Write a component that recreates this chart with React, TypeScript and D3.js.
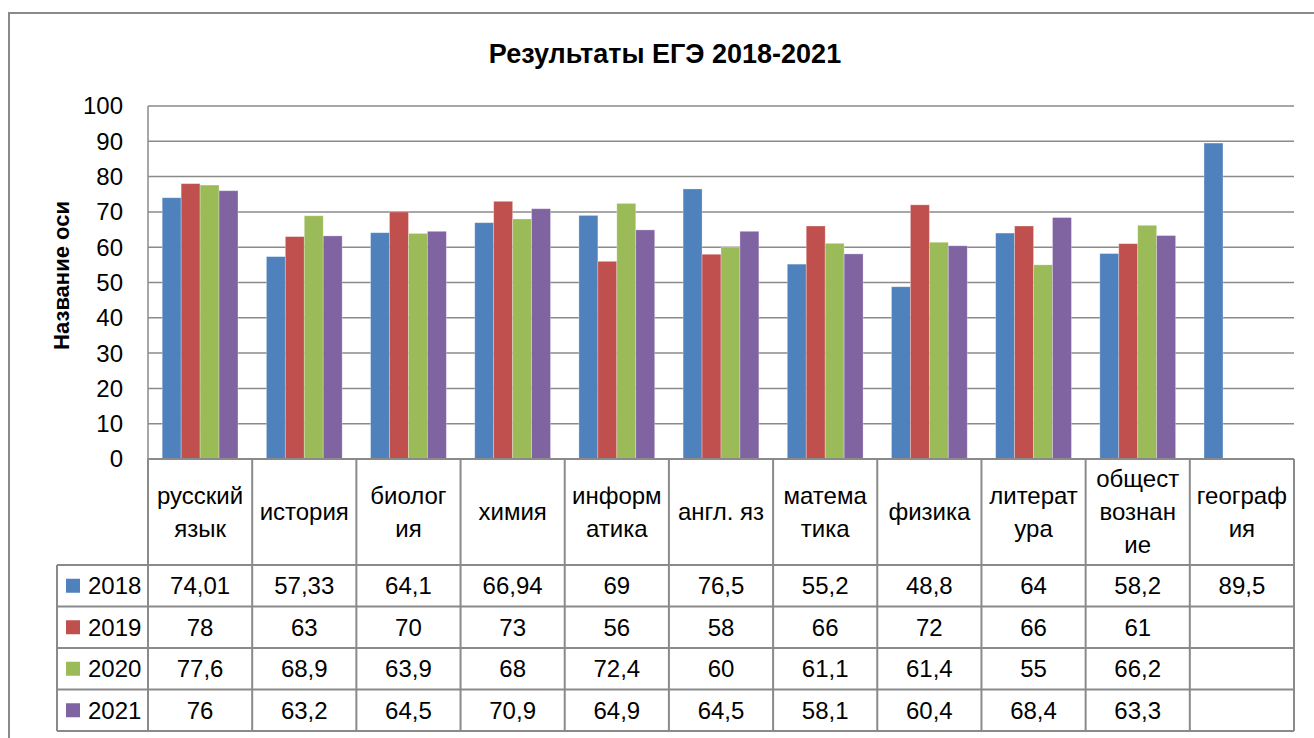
import React from 'react';
import * as d3 from 'd3';

// Subjects (line breaks as they wrap in the table header)
const categories = [
  'русский\nязык', 'история', 'биолог\nия', 'химия', 'информ\nатика', 'англ. яз',
  'матема\nтика', 'физика', 'литерат\nура', 'общест\nвознан\nие', 'географ\nия',
];
const years = ['2018', '2019', '2020', '2021'];
const values2018: (number | null)[] = [74.01, 57.33, 64.1, 66.94, 69, 76.5, 55.2, 48.8, 64, 58.2, 89.5];
const values2019: (number | null)[] = [78, 63, 70, 73, 56, 58, 66, 72, 66, 61, null];
const values2020: (number | null)[] = [77.6, 68.9, 63.9, 68, 72.4, 60, 61.1, 61.4, 55, 66.2, null];
const values2021: (number | null)[] = [76, 63.2, 64.5, 70.9, 64.9, 64.5, 58.1, 60.4, 68.4, 63.3, null];
const yTicks = [0, 10, 20, 30, 40, 50, 60, 70, 80, 90, 100];
const colors = ['#4F81BD', '#C0504D', '#9BBB59', '#8064A2'];

const series = [values2018, values2019, values2020, values2021];

const FONT = '"Liberation Sans", Arial, sans-serif';
const GRID = '#8a8a8a';

const fmt = (v: number | null) => (v == null ? '' : String(v).replace('.', ','));

export default function App() {
  const left = 148;
  const right = 1294;
  const top = 106;
  const bottom = 459;
  const headerBottom = 565;
  const rowH = 41.5;
  const legendLeft = 57;

  const y = d3.scaleLinear().domain([0, 100]).range([bottom, top]);
  const x = d3.scaleBand<number>().domain(d3.range(categories.length)).range([left, right]).padding(0);
  const cw = x.bandwidth();
  const bw = cw / 5.5; // gap width 150%
  const inner = d3.scaleBand<string>().domain(years).range([bw * 0.75, cw - bw * 0.75]).padding(0);

  const rowsTop = (i: number) => headerBottom + i * rowH;
  const tableBottom = rowsTop(years.length);

  return (
    <svg width={1314} height={738} style={{ position: 'absolute', left: 0, top: 0, background: '#fff' }}>
      <rect x={9} y={13} width={1330} height={760} fill="#fff" stroke={GRID} strokeWidth={2} />

      <text x={665} y={63} textAnchor="middle" fontFamily={FONT} fontWeight="bold" fontSize={27}>
        Результаты ЕГЭ 2018-2021
      </text>

      <text
        transform={`translate(69,${(top + bottom) / 2 - 7}) rotate(-90)`}
        textAnchor="middle"
        fontFamily={FONT}
        fontWeight="bold"
        fontSize={22}
      >
        Название оси
      </text>

      {/* gridlines */}
      {yTicks.map((t) => (
        <g key={t}>
          {t > 0 && <line x1={left} x2={right} y1={y(t)} y2={y(t)} stroke={GRID} strokeWidth={1.5} />}
          <text x={123} y={y(t)} dy="0.35em" textAnchor="end" fontFamily={FONT} fontSize={24}>
            {t}
          </text>
        </g>
      ))}

      {/* bars */}
      {categories.map((c, ci) => (
        <g key={ci} transform={`translate(${x(ci)},0)`}>
          {series.map((s, si) => {
            const v = s[ci];
            if (v == null) return null;
            return (
              <rect
                key={si}
                x={inner(years[si])}
                y={y(v)}
                width={inner.bandwidth()}
                height={y(0) - y(v)}
                fill={colors[si]}
                stroke="#ffffff"
                strokeOpacity={0.35}
                strokeWidth={0.8}
              />
            );
          })}
        </g>
      ))}

      {/* axis lines */}
      <line x1={left} x2={left} y1={top} y2={bottom} stroke={GRID} strokeWidth={1.5} />
      <line x1={left} x2={right} y1={bottom} y2={bottom} stroke={GRID} strokeWidth={2} />

      {/* data table */}
      {d3.range(categories.length + 1).map((i) => {
        const xx = i < categories.length ? x(i)! : right;
        return <line key={i} x1={xx} x2={xx} y1={bottom} y2={tableBottom} stroke={GRID} strokeWidth={2} />;
      })}
      <line x1={legendLeft} x2={legendLeft} y1={headerBottom} y2={tableBottom} stroke={GRID} strokeWidth={2} />
      {d3.range(years.length + 1).map((i) => (
        <line key={i} x1={legendLeft} x2={right} y1={rowsTop(i)} y2={rowsTop(i)} stroke={GRID} strokeWidth={2} />
      ))}

      {categories.map((c, ci) => {
        const lines = c.split('\n');
        const cx = x(ci)! + cw / 2;
        const cy = (bottom + headerBottom) / 2;
        const lh = 33;
        return (
          <text key={ci} textAnchor="middle" fontFamily={FONT} fontSize={24}>
            {lines.map((l, li) => (
              <tspan key={li} x={cx} y={cy + (li - (lines.length - 1) / 2) * lh} dy="0.35em">
                {l}
              </tspan>
            ))}
          </text>
        );
      })}

      {years.map((yr, si) => {
        const cy = rowsTop(si) + rowH / 2;
        return (
          <g key={yr}>
            <rect x={66} y={cy - 7} width={14} height={14} fill={colors[si]} />
            <text x={88} y={cy} dy="0.35em" fontFamily={FONT} fontSize={24}>
              {yr}
            </text>
            {series[si].map((v, ci) => (
              <text key={ci} x={x(ci)! + cw / 2} y={cy} dy="0.35em" textAnchor="middle" fontFamily={FONT} fontSize={24}>
                {fmt(v)}
              </text>
            ))}
          </g>
        );
      })}
    </svg>
  );
}
